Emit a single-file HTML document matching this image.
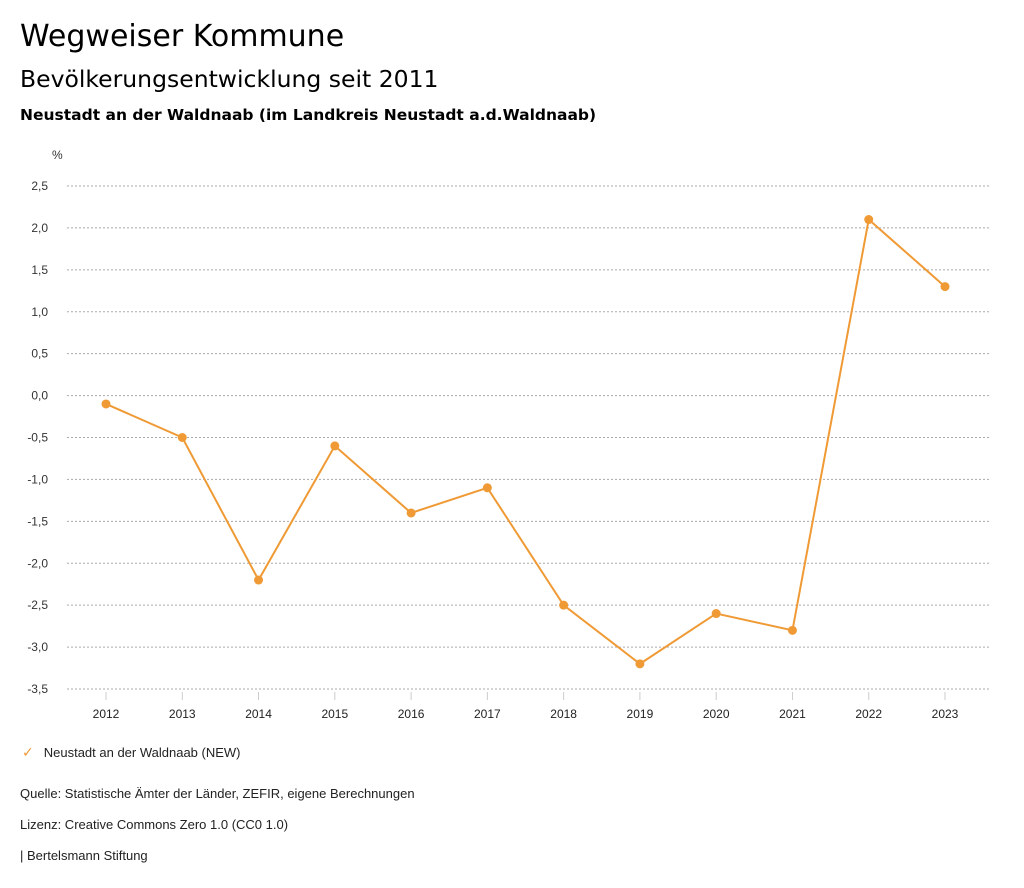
<!DOCTYPE html>
<html><head><meta charset="utf-8">
<style>
body{margin:0;background:#fff;font-family:"Liberation Sans","DejaVu Sans",sans-serif;color:#000;}
.t{position:absolute;white-space:nowrap;}
.d{font-family:"DejaVu Sans","Liberation Sans",sans-serif;}
</style></head>
<body>
<div style="position:relative;width:1024px;height:888px;overflow:hidden;">
<div class="t d" style="left:20px;top:19px;font-size:30px;">Wegweiser Kommune</div>
<div class="t d" style="left:20px;top:65px;font-size:23.5px;">Bevölkerungsentwicklung seit 2011</div>
<div class="t d" style="left:20px;top:106px;font-size:15.5px;font-weight:bold;">Neustadt an der Waldnaab (im Landkreis Neustadt a.d.Waldnaab)</div>
<svg id="chart" width="1024" height="740" style="position:absolute;left:0;top:0">
<text x="52" y="159" font-size="12" fill="#333" font-family="Liberation Sans, sans-serif">%</text>
</svg>
<div class="t" style="left:22px;top:744px;font-size:13px;color:#222;"><span style="color:#ef9a35;font-size:14px;margin-right:10px;">✓</span>Neustadt an der Waldnaab (NEW)</div>
<div class="t" style="left:20px;top:786px;font-size:13px;color:#222;">Quelle: Statistische Ämter der Länder, ZEFIR, eigene Berechnungen</div>
<div class="t" style="left:20px;top:817px;font-size:13px;color:#222;">Lizenz: Creative Commons Zero 1.0 (CC0 1.0)</div>
<div class="t" style="left:20px;top:848px;font-size:13px;color:#222;">| Bertelsmann Stiftung</div>
</div>
<script>
const years = ["2012","2013","2014","2015","2016","2017","2018","2019","2020","2021","2022","2023"];
const values = [-0.1,-0.5,-2.2,-0.6,-1.4,-1.1,-2.5,-3.2,-2.6,-2.8,2.1,1.3];
const yTicks = [2.5,2.0,1.5,1.0,0.5,0.0,-0.5,-1.0,-1.5,-2.0,-2.5,-3.0,-3.5];
const svg = document.getElementById('chart');
const NS = 'http://www.w3.org/2000/svg';
const yMax = 2.5, yMin = -3.5, yTop = 186, yBot = 689;
const xFirst = 106, xLast = 945;
function y(v){ return yTop + (yMax - v) / (yMax - yMin) * (yBot - yTop); }
function x(i){ return xFirst + i * (xLast - xFirst) / (years.length - 1); }
function mk(tag, attrs){ const e = document.createElementNS(NS, tag); for (const k in attrs) e.setAttribute(k, attrs[k]); svg.appendChild(e); return e; }
yTicks.forEach(v => {
  const g = mk('line', {x1:67, x2:990, y1:y(v), y2:y(v), stroke:'#aaa', 'stroke-width':1, 'stroke-dasharray':'2,2'});
  
  
  const t = mk('text', {x:48, y:y(v)+4, 'font-size':12, fill:'#333', 'text-anchor':'end', 'font-family':'Liberation Sans, sans-serif'});
  t.textContent = v.toFixed(1).replace('.', ',');
  
  
});
years.forEach((yr, i) => {
  const tk = mk('line', {x1:x(i), x2:x(i), y1:692, y2:700, stroke:'#ccc', 'stroke-width':1});
  
  
  const t = mk('text', {x:x(i), y:718, 'font-size':12, fill:'#222', 'text-anchor':'middle', 'font-family':'Liberation Sans, sans-serif'});
  t.textContent = yr;
  
  
});
const line = mk('polyline', {points: values.map((v,i)=>x(i)+','+y(v)).join(' '), fill:'none', stroke:'#ef9a35', 'stroke-width':2});


values.forEach((v, i) => {
  const c = mk('circle', {cx:x(i), cy:y(v), r:4.5, fill:'#ef9a35'});
  
  
});
</script>
</body></html>
